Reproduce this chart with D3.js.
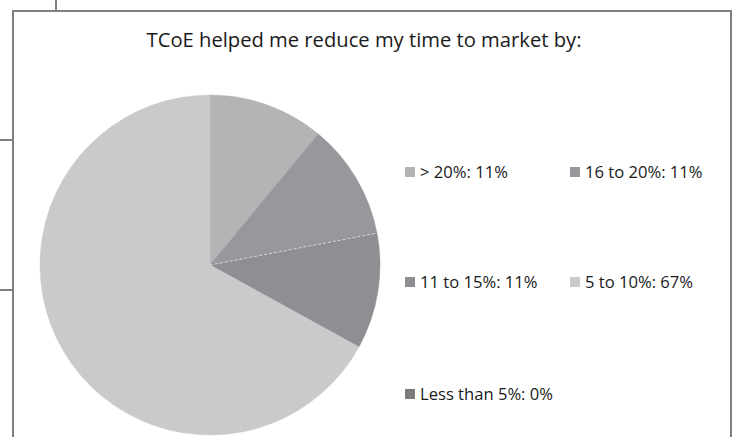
<!DOCTYPE html>
<html>
<head>
<meta charset="utf-8">
<script src="https://cdn.jsdelivr.net/npm/d3@7"></script>
<style>
  html, body { margin: 0; padding: 0; background: #fff; }
  svg { display: block; }
  text { font-family: "Open Sans", "Noto Sans", sans-serif; fill: #1a1a1a; }
</style>
</head>
<body>
<svg id="chart" width="736" height="437"></svg>
<script>
// Survey answers: share of respondents per time-to-market reduction band
const categories = ["> 20%", "16 to 20%", "11 to 15%", "5 to 10%", "Less than 5%"];
const values = [11, 11, 11, 67, 0];
const title = "TCoE helped me reduce my time to market by:";

// Slice / swatch fills
const palette = ["#b3b4b6", "#97989b", "#8e8f92", "#c9cacc", "#7b7b7d"];

const svg = d3.select("#chart");
const W = 736, H = 437;

// Frame and page rules around the chart
const frame = svg.append("g").attr("stroke", "#808080").attr("stroke-width", 2).attr("fill", "none");
frame.append("path").attr("d", `M13,${H + 2} V11 H731 V${H + 2}`);
frame.append("line").attr("x1", 56).attr("y1", 0).attr("x2", 56).attr("y2", 11);
frame.append("line").attr("x1", 0).attr("y1", 140).attr("x2", 13).attr("y2", 140);
frame.append("line").attr("x1", 0).attr("y1", 290).attr("x2", 13).attr("y2", 290);

// Title
svg.append("text")
  .attr("x", 364).attr("y", 47)
  .attr("text-anchor", "middle")
  .attr("font-size", 20.2)
  .text(title);

// Pie
const cx = 210, cy = 265, R = 170;
const color = d3.scaleOrdinal().domain(categories).range(palette);
const pie = d3.pie().sort(null).value(d => d.value).startAngle(0).endAngle(2 * Math.PI);
const data = categories.map((c, i) => ({ cat: c, value: values[i] }));
const arcs = pie(data);
const arc = d3.arc().innerRadius(0).outerRadius(R);

const g = svg.append("g").attr("transform", `translate(${cx},${cy})`);
g.selectAll("path.slice")
  .data(arcs.filter(a => a.value > 0))
  .join("path")
  .attr("class", "slice")
  .attr("d", arc)
  .attr("fill", d => color(d.data.cat))
  .attr("stroke", d => color(d.data.cat))
  .attr("stroke-width", 0.5);

// Dashed separator between the 16–20% and 11–15% slices
const sep = arcs[1].endAngle;
g.append("line")
  .attr("x1", 0).attr("y1", 0)
  .attr("x2", R * Math.sin(sep)).attr("y2", -R * Math.cos(sep))
  .attr("stroke", "#e6e6e6").attr("stroke-width", 0.8)
  .attr("stroke-dasharray", "3,2");

// Legend: two columns, three rows
const legendPos = [[405, 172], [570, 172], [405, 282], [570, 282], [405, 394]];
const legend = svg.append("g");
const items = legend.selectAll("g.item")
  .data(data)
  .join("g")
  .attr("class", "item")
  .attr("transform", (d, i) => `translate(${legendPos[i][0]},${legendPos[i][1]})`);
items.append("rect")
  .attr("x", 0).attr("y", -5).attr("width", 10).attr("height", 10)
  .attr("fill", d => color(d.cat));
items.append("text")
  .attr("x", 15).attr("y", 5.5)
  .attr("font-size", 16.6)
  .text(d => `${d.cat}: ${d.value}%`);
</script>
</body>
</html>
